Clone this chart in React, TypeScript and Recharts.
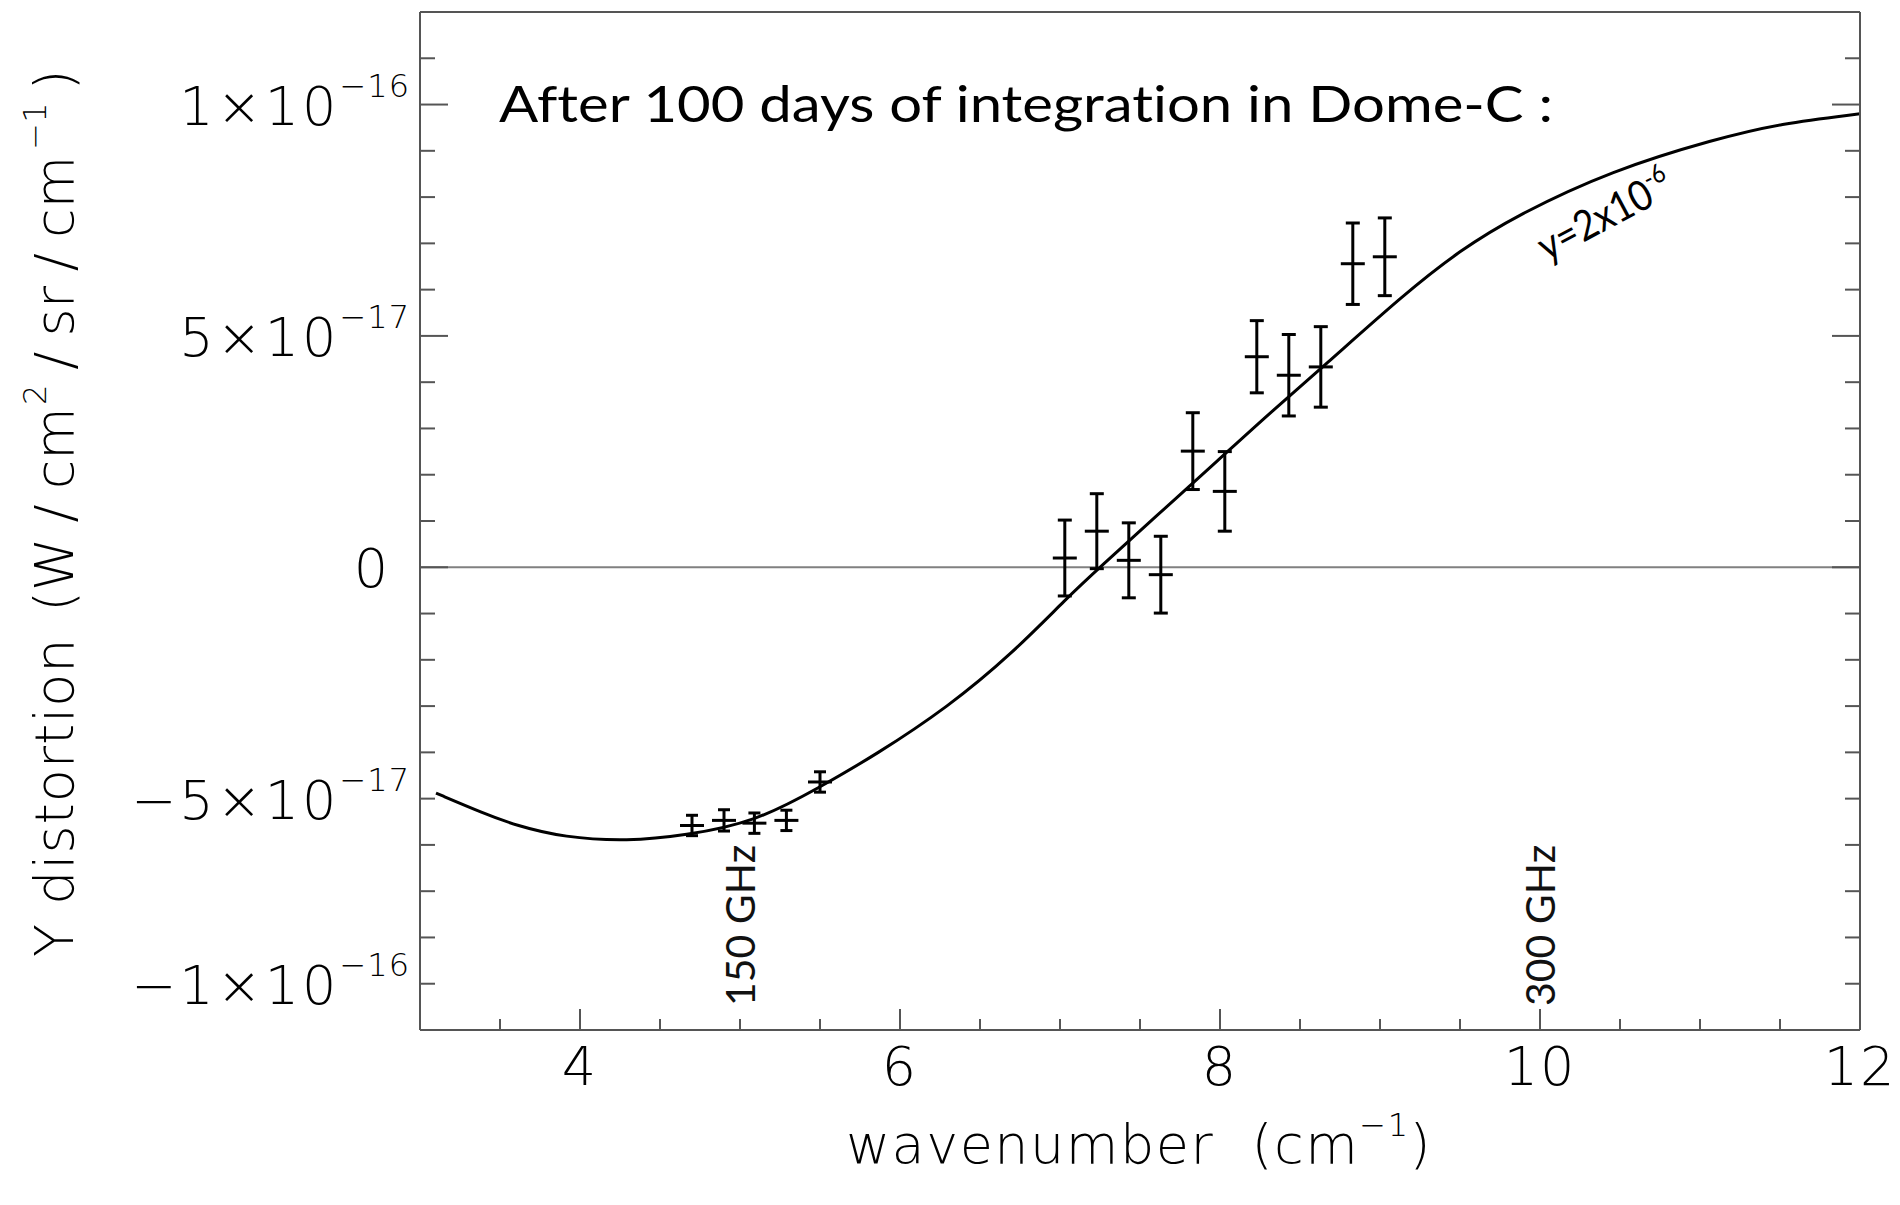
import React from 'react';
import { ComposedChart, Line, Scatter, XAxis, YAxis, ErrorBar, ReferenceLine } from 'recharts';

// Intensities are in units of 1e-17 W/cm²/sr/cm⁻¹, wavenumber in cm⁻¹

// y-distortion model curve (y = 2x10^-6)
const curveX = [3.1, 3.4, 3.6, 3.9, 4.3, 4.65, 5.1, 5.5, 5.85, 6.3, 6.7, 7.05, 7.25, 7.6, 8.0, 8.3, 8.65, 9.15, 9.5, 9.85, 10.45, 11.1, 11.5, 12.0];
const curveY = [-4.88, -5.32, -5.58, -5.84, -5.92, -5.8, -5.5, -4.75, -4.05, -3.02, -1.87, -0.64, 0.0, 1.1, 2.35, 3.3, 4.35, 5.9, 6.85, 7.6, 8.58, 9.26, 9.59, 9.8];

// low-frequency channels
const lowX = [4.7, 4.9, 5.09, 5.29, 5.5];
const lowY = [-5.58, -5.47, -5.53, -5.47, -4.64];
const lowErr = [0.22, 0.23, 0.22, 0.22, 0.22];

// high-frequency channels
const highX = [7.03, 7.23, 7.43, 7.63, 7.83, 8.03, 8.23, 8.43, 8.63, 8.83, 9.03];
const highY = [0.2, 0.78, 0.15, -0.16, 2.51, 1.64, 4.55, 4.15, 4.33, 6.56, 6.71];
const highErr = [0.82, 0.81, 0.81, 0.83, 0.83, 0.86, 0.78, 0.88, 0.87, 0.88, 0.84];

// axes
const xTicks = [3, 3.5, 4, 4.5, 5, 5.5, 6, 6.5, 7, 7.5, 8, 8.5, 9, 9.5, 10, 10.5, 11, 11.5, 12];
const xMajorTicks = [4, 6, 8, 10, 12];
const xTickLabels = ['4', '6', '8', '10', '12'];
const yTicks = [-10, -9, -8, -7, -6, -5, -4, -3, -2, -1, 0, 1, 2, 3, 4, 5, 6, 7, 8, 9, 10, 11, 12];
const yMajorTicks = [10, 5, 0];
const yLabelValues = [10, 5, 0, -5, -9];
const yLabelMain = ['1×10', '5×10', '0', '−5×10', '−1×10'];
const yLabelExp = ['−16', '−17', '', '−17', '−16'];

// frequency markers
const ghzX = [5, 10];
const ghzText = ['150 GHz', '300 GHz'];

const curveData = curveX.map((x, i) => ({ x, y: curveY[i] }));
const lowData = lowX.map((x, i) => ({ x, y: lowY[i], err: lowErr[i] }));
const highData = highX.map((x, i) => ({ x, y: highY[i], err: highErr[i] }));

const W = 1900;
const H = 1205;
const AXIS = '#555';
const TXT = '#000';
const IDL_FONT = '"DejaVu Sans", "Liberation Sans", sans-serif';
const ANN_FONT = 'Lato, "Open Sans", sans-serif';
const NO_LIGA = { fontVariantLigatures: 'none', fontFeatureSettings: '"liga" 0, "clig" 0' } as React.CSSProperties;

const LeftTick = (p: any) => {
  const { x, y, payload } = p;
  const v = payload.value;
  const len = yMajorTicks.includes(v) ? 28 : 15;
  const i = yLabelValues.indexOf(v);
  return (
    <g>
      <line x1={x} x2={x + len} y1={y} y2={y} stroke={AXIS} strokeWidth={2} />
      {i >= 0 && (
        <text x={yLabelExp[i] ? x - 10 : x - 32} y={y + 20} textAnchor="end" fontFamily={IDL_FONT} fontWeight={200} fontSize={54} fill={TXT} letterSpacing={yLabelExp[i] ? 3 : 0}>
          {yLabelMain[i]}
          {yLabelExp[i] ? (
            <tspan dy={-28} fontSize={32} letterSpacing={1}>{yLabelExp[i]}</tspan>
          ) : null}
        </text>
      )}
    </g>
  );
};

const RightTick = (p: any) => {
  const { x, y, payload } = p;
  const len = yMajorTicks.includes(payload.value) ? 28 : 15;
  return <line x1={x - len} x2={x} y1={y} y2={y} stroke={AXIS} strokeWidth={2} />;
};

const TopTick = (p: any) => {
  const { x, y, payload } = p;
  const len = xMajorTicks.includes(payload.value) ? 21 : 11;
  return <line x1={x} x2={x} y1={y} y2={y + len} stroke={AXIS} strokeWidth={2} />;
};

const BottomTick = (p: any) => {
  const { x, y, payload } = p;
  const v = payload.value;
  const i = xMajorTicks.indexOf(v);
  const len = i >= 0 ? 21 : 11;
  return (
    <g>
      <line x1={x} x2={x} y1={y - len} y2={y} stroke={AXIS} strokeWidth={2} />
      {i >= 0 && (
        <text x={x} y={y + 55} textAnchor="middle" fontFamily={IDL_FONT} fontWeight={200} fontSize={54} fill={TXT} letterSpacing={2}>
          {xTickLabels[i]}
        </text>
      )}
    </g>
  );
};

const Dash = (p: any) => {
  const { cx, cy } = p;
  if (cx == null || cy == null) return <g />;
  return <line x1={cx - 12} x2={cx + 12} y1={cy} y2={cy} stroke="#000" strokeWidth={3} />;
};

const GhzLabel = (p: any) => {
  const vb = p.viewBox || {};
  const x = (vb.x ?? 0) + 15;
  const y = (vb.y ?? 0) + (vb.height ?? 0) - 24;
  return (
    <text x={x} y={y} transform={`rotate(-90, ${x}, ${y})`} fontFamily={ANN_FONT} fontWeight={400} fontSize={41} fill="#111" stroke="none">
      {p.text}
    </text>
  );
};

export default function App() {
  return (
    <div style={{ position: 'absolute', left: 0, top: 0, width: W, height: H, background: '#fff' }}>
      <ComposedChart width={W} height={H} margin={{ top: 0, right: 0, bottom: 0, left: 0 }}>
        <XAxis xAxisId="b" dataKey="x" type="number" orientation="bottom" domain={[3, 12]} ticks={xTicks} interval={0} height={175} tickSize={0} tickMargin={0} tickLine={false} axisLine={{ stroke: AXIS, strokeWidth: 2 }} tick={(p: any) => <BottomTick {...p} />} allowDataOverflow />
        <XAxis xAxisId="t" type="number" orientation="top" domain={[3, 12]} ticks={xTicks} interval={0} height={12} tickSize={0} tickMargin={0} tickLine={false} axisLine={{ stroke: AXIS, strokeWidth: 2 }} tick={(p: any) => <TopTick {...p} />} allowDataOverflow />
        <YAxis yAxisId="l" dataKey="y" type="number" orientation="left" domain={[-10, 12]} ticks={yTicks} interval={0} width={420} tickSize={0} tickMargin={0} tickLine={false} axisLine={{ stroke: AXIS, strokeWidth: 2 }} tick={(p: any) => <LeftTick {...p} />} allowDataOverflow />
        <YAxis yAxisId="r" type="number" orientation="right" domain={[-10, 12]} ticks={yTicks} interval={0} width={40} tickSize={0} tickMargin={0} tickLine={false} axisLine={{ stroke: AXIS, strokeWidth: 2 }} tick={(p: any) => <RightTick {...p} />} allowDataOverflow />
        <ReferenceLine xAxisId="b" yAxisId="l" y={0} stroke="#808080" strokeWidth={2} />
        {ghzX.map((gx, i) => (
          <ReferenceLine key={gx} xAxisId="b" yAxisId="l" x={gx} stroke="none" label={(p: any) => <GhzLabel {...p} text={ghzText[i]} />} />
        ))}
        <Line xAxisId="b" yAxisId="l" data={curveData} dataKey="y" type="basis" dot={false} activeDot={false} stroke="#000" strokeWidth={3} isAnimationActive={false} />
        <Scatter xAxisId="b" yAxisId="l" data={lowData} dataKey="y" shape={(p: any) => <Dash {...p} />} isAnimationActive={false}>
          <ErrorBar dataKey="err" direction="y" width={6} stroke="#000" strokeWidth={3} isAnimationActive={false} />
        </Scatter>
        <Scatter xAxisId="b" yAxisId="l" data={highData} dataKey="y" shape={(p: any) => <Dash {...p} />} isAnimationActive={false}>
          <ErrorBar dataKey="err" direction="y" width={7} stroke="#000" strokeWidth={3} isAnimationActive={false} />
        </Scatter>
      </ComposedChart>
      <svg width={W} height={H} style={{ position: 'absolute', left: 0, top: 0, pointerEvents: 'none' }}>
        <text x={499} y={122} fontFamily={ANN_FONT} fontSize={50} fill="#000" textLength={1054} lengthAdjust="spacingAndGlyphs" style={NO_LIGA}>
          After 100 days of integration in Dome-C :
        </text>
        <g transform="translate(1547,262) rotate(-28)">
          <text x={0} y={0} fontFamily={ANN_FONT} fontSize={42} fill="#000" textLength={146} lengthAdjust="spacingAndGlyphs">
            y=2x10<tspan dy={-17} fontSize={26}>-6</tspan>
          </text>
        </g>
        <text x={1139} y={1163} textAnchor="middle" fontFamily={IDL_FONT} fontWeight={200} fontSize={54} fill={TXT} letterSpacing={1.5} style={{ whiteSpace: 'pre' }}>
          {'wavenumber  (cm'}
          <tspan dy={-27} fontSize={32}>−1</tspan>
          <tspan dy={27}>)</tspan>
        </text>
        <text x={73} y={957} transform="rotate(-90, 73, 957)" fontFamily={IDL_FONT} fontWeight={200} fontSize={54} fill={TXT} letterSpacing={1}>
          Y distortion
        </text>
        <text x={73} y={612} transform="rotate(-90, 73, 612)" fontFamily={IDL_FONT} fontWeight={200} fontSize={54} fill={TXT}>
          <tspan>(W</tspan>
          <tspan dx={15}>/</tspan>
          <tspan dx={15}>cm</tspan>
          <tspan dy={-27} dx={2} fontSize={32}>2</tspan>
          <tspan dy={27} dx={15}>/</tspan>
          <tspan dx={15}>sr</tspan>
          <tspan dx={15}>/</tspan>
          <tspan dx={15}>cm</tspan>
          <tspan dy={-27} dx={6} fontSize={32}>−1</tspan>
          <tspan dy={27} dx={12}>)</tspan>
        </text>
      </svg>
    </div>
  );
}
